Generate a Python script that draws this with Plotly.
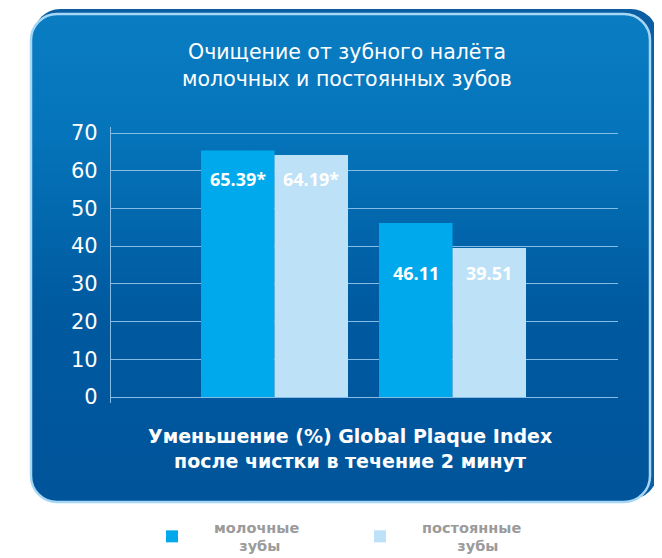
import base64
import plotly.graph_objects as go

# ---- data ----
groups = ["Исследование 1", "Исследование 2"]
series_names = ["молочные<br>\u00a0\u00a0\u00a0\u00a0\u00a0зубы", "постоянные<br>\u00a0\u00a0\u00a0\u00a0\u00a0\u00a0\u00a0зубы"]
milk_teeth = [65.39, 46.11]
permanent_teeth = [64.19, 39.51]
milk_labels = ["65.39*", "46.11"]
permanent_labels = ["64.19*", "39.51"]
y_ticks = [0, 10, 20, 30, 40, 50, 60, 70]

title_text = "Очищение от зубного налёта<br>молочных и постоянных зубов"
x_title_text = "Уменьшение (%) Global Plaque Index<br>после чистки в течение 2 минут"

# ---- style ----
W, H = 662, 558
OFF = 8  # page body margin
ML, MR, MT, MB = 111 - OFF, W - (618 - OFF), 127 - OFF, H - (403 - OFF)
col_milk = "#00A9EC"
col_perm = "#BDE1F6"
grid_col = "#84BCE6"
font_family = "Open Sans"
wide_font = "DejaVu Sans"

svg = f"""<svg xmlns='http://www.w3.org/2000/svg' width='{W}' height='{H}' viewBox='0 0 {W} {H}'>
<defs><linearGradient id='g' x1='0' y1='0' x2='0' y2='1'>
<stop offset='0' stop-color='#0A7DC2'/><stop offset='0.25' stop-color='#0574BA'/>
<stop offset='0.6' stop-color='#005AA0'/><stop offset='1' stop-color='#00549A'/></linearGradient></defs>
<rect x='{34-OFF}' y='{9-OFF}' width='623' height='490' rx='26' ry='26' fill='#0B5EA2'/>
<rect x='{31-OFF}' y='{14-OFF}' width='619' height='488' rx='26' ry='26' fill='url(#g)' stroke='#A6D8F6' stroke-width='2.5'/>
</svg>"""
svg_uri = "data:image/svg+xml;base64," + base64.b64encode(svg.encode()).decode()

pw, ph = W - ML - MR, H - MT - MB

fig = go.Figure()
fig.add_trace(go.Bar(x=[0, 1], y=milk_teeth, name=series_names[0],
                     marker=dict(color=col_milk, line=dict(width=0)),
                     hoverinfo="skip"))
fig.add_trace(go.Bar(x=[0, 1], y=permanent_teeth, name=series_names[1],
                     marker=dict(color=col_perm, line=dict(width=0)),
                     hoverinfo="skip"))

bar_px = 73.5
annotations = []
for i in range(len(groups)):
    ly = min(milk_teeth[i], permanent_teeth[i]) - 6.5
    for lab, shift in ((milk_labels[i], -bar_px / 2), (permanent_labels[i], bar_px / 2)):
        annotations.append(dict(x=i, y=ly, xref="x", yref="y", text=f"<b>{lab}</b>",
                                showarrow=False, xshift=shift,
                                font=dict(family=font_family, size=18, color="white")))
# x-axis caption
annotations.append(dict(x=(349.5 - OFF - ML) / pw, y=((403 - OFF) - (448 - OFF)) / ph,
                        xref="paper", yref="paper",
                        text=x_title_text, showarrow=False, xanchor="center", yanchor="middle",
                        font=dict(family=wide_font, size=19, color="white", weight="bold")))

fig.update_layout(
    width=W, height=H,
    margin=dict(l=ML, r=MR, t=MT, b=MB, pad=0, autoexpand=False),
    paper_bgcolor="white", plot_bgcolor="rgba(0,0,0,0)",
    barmode="group", bargap=0.174, bargroupgap=0,
    font=dict(family=font_family, color="white"),
    title=dict(text=title_text, x=(347 - OFF) / W, xanchor="center", xref="container",
               y=1 - 51 / H, yanchor="top",
               font=dict(family=wide_font, size=20.5, color="white")),
    xaxis=dict(range=[-(274.5 - OFF - ML) / 178, 1 + (W - MR - (452.5 - OFF)) / 178],
               showticklabels=False, showgrid=False, zeroline=False, showline=False,
               ticks="", fixedrange=True),
    yaxis=dict(range=[-1.59, 71.59], tickvals=y_ticks,
               showgrid=True, gridcolor=grid_col, gridwidth=1.3,
               zeroline=True, zerolinecolor=grid_col, zerolinewidth=1.3,
               showline=True, linecolor=grid_col, linewidth=1.3,
               ticks="", ticklabelstandoff=8,
               tickfont=dict(family=wide_font, size=21, color="white")),
    legend=dict(orientation="h", x=19 / pw, xanchor="left",
                y=-(503 - (H - MB)) / ph, yanchor="top",
                itemwidth=74, entrywidth=119, entrywidthmode="pixels",
                font=dict(family="DejaVu Sans", size=14.5, color="#9B9B9B", weight=600),
                bgcolor="rgba(0,0,0,0)"),
    showlegend=True,
    annotations=annotations,
    images=[dict(source=svg_uri, xref="paper", yref="paper",
                 x=-ML / pw, y=1 + MT / ph, sizex=W / pw, sizey=H / ph,
                 xanchor="left", yanchor="top", sizing="stretch", layer="below")],
)

fig.write_html("out.html")
